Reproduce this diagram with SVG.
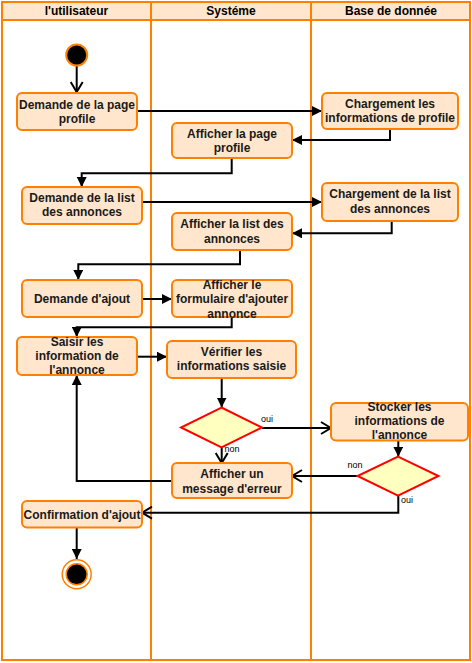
<svg xmlns="http://www.w3.org/2000/svg" width="472" height="663" viewBox="0 0 472 663">
<defs>
<style>
.lane{fill:none;stroke:#ff8000;stroke-width:2}
.hdr{fill:#ffe6cc;stroke:#ff8000;stroke-width:2}
.hdt{font-family:"Liberation Sans",Arial,sans-serif;font-size:12px;font-weight:bold;fill:#000;text-anchor:middle}
.box{fill:#ffe6cc;stroke:#ff8000;stroke-width:2}
.t{font-family:"Liberation Sans",Arial,sans-serif;font-size:12px;font-weight:bold;fill:#1a1a1a;text-anchor:middle}
.dec{fill:#ffffc0;stroke:#ff0000;stroke-width:2}
.lbl{font-family:"Liberation Sans",Arial,sans-serif;font-size:9px;fill:#000}
.e{fill:none;stroke:#000;stroke-width:2}
.ef{fill:none;stroke:#000;stroke-width:2;marker-end:url(#fa)}
.eo{fill:none;stroke:#000;stroke-width:2;marker-end:url(#oa)}
</style>
<marker id="fa" viewBox="0 0 10 10" refX="10" refY="5" markerWidth="10" markerHeight="10" markerUnits="userSpaceOnUse" orient="auto">
<path d="M0,0 L10,5 L0,10 z" fill="#000"/>
</marker>
<marker id="oa" viewBox="-1 -1 12 14" refX="10" refY="6" markerWidth="12" markerHeight="14" markerUnits="userSpaceOnUse" orient="auto">
<path d="M0,0 L10,6 L0,12" fill="none" stroke="#000" stroke-width="2"/>
</marker>
</defs>

<g id="lanes">
<rect class="hdr" x="2" y="2" width="149" height="18"/>
<rect class="hdr" x="151" y="2" width="160" height="18"/>
<rect class="hdr" x="311" y="2" width="159" height="18"/>
<rect class="lane" x="2" y="2" width="149" height="658"/>
<rect class="lane" x="151" y="2" width="160" height="658"/>
<rect class="lane" x="311" y="2" width="159" height="658"/>
<text class="hdt" x="76.5" y="15">l'utilisateur</text>
<text class="hdt" x="231" y="15">Systéme</text>
<text class="hdt" x="391" y="15">Base de donnée</text>
</g>

<g id="connectors">
<path class="eo" d="M76.7,66 L76.7,92"/>
<path class="ef" d="M137,111 L322,111"/>
<path class="ef" d="M390,129 L390,140 L292,140"/>
<path class="ef" d="M231.7,158 L231.7,173.3 L81.7,173.3 L81.7,187"/>
<path class="ef" d="M142,202 L322,202"/>
<path class="ef" d="M391.7,221 L391.7,233.3 L292,233.3"/>
<path class="ef" d="M240,250 L240,264.3 L78.3,264.3 L78.3,280"/>
<path class="ef" d="M142,299 L172,299"/>
<path class="ef" d="M231.7,318 L231.7,327.3 L76.7,327.3 L76.7,337"/>
<path class="ef" d="M137,356.7 L167,356.7"/>
<path class="ef" d="M221.7,378 L221.7,407.5"/>
<path class="eo" d="M262,428 L331,428"/>
<path class="eo" d="M221.7,447.5 L221.7,463"/>
<path class="ef" d="M398.3,441 L398.3,456.7"/>
<path class="eo" d="M358,476 L292,476"/>
<path class="eo" d="M398.3,495.7 L398.3,512.7 L142,512.7"/>
<path class="ef" d="M172,481 L76.7,481 L76.7,375"/>
<path class="ef" d="M76.7,527.5 L76.7,559"/>
<text class="lbl" x="261" y="422">oui</text>
<text class="lbl" x="224.5" y="452">non</text>
<text class="lbl" x="347.5" y="467.5">non</text>
<text class="lbl" x="401" y="503">oui</text>
</g>

<g id="start">
<circle cx="76.7" cy="55" r="10.5" fill="#000" stroke="#ff8000" stroke-width="2"/>
</g>

<g id="n1">
<rect class="box" x="17" y="93" width="120" height="37" rx="5"/>
<text class="t" x="77" y="108.5">Demande de la page</text>
<text class="t" x="77" y="122.5">profile</text>
</g>

<g id="n2">
<rect class="box" x="322" y="93" width="136" height="36" rx="5"/>
<text class="t" x="390" y="108">Chargement les</text>
<text class="t" x="390" y="122">informations de profile</text>
</g>

<g id="n3">
<rect class="box" x="172" y="123" width="120" height="35" rx="5"/>
<text class="t" x="232" y="137.5">Afficher la page</text>
<text class="t" x="232" y="151.5">profile</text>
</g>

<g id="n4">
<rect class="box" x="22" y="187" width="120" height="37" rx="5"/>
<text class="t" x="82" y="202">Demande de la list</text>
<text class="t" x="82" y="216">des annonces</text>
</g>

<g id="n5">
<rect class="box" x="322" y="183" width="136" height="38" rx="5"/>
<text class="t" x="390" y="197.5">Chargement de la list</text>
<text class="t" x="390" y="212.5">des annonces</text>
</g>

<g id="n6">
<rect class="box" x="172" y="213" width="120" height="37" rx="5"/>
<text class="t" x="232" y="227.5">Afficher la list des</text>
<text class="t" x="232" y="242.5">annonces</text>
</g>

<g id="n7">
<rect class="box" x="22" y="280" width="120" height="37" rx="5"/>
<text class="t" x="82" y="303">Demande d'ajout</text>
</g>

<g id="n8">
<rect class="box" x="172" y="280" width="120" height="37" rx="5"/>
<text class="t" x="232" y="288.5">Afficher le</text>
<text class="t" x="232" y="303">formulaire d'ajouter</text>
<text class="t" x="232" y="317.5">annonce</text>
</g>

<g id="n9">
<rect class="box" x="17" y="337" width="120" height="38" rx="5"/>
<text class="t" x="77" y="345.5">Saisir les</text>
<text class="t" x="77" y="360">information de</text>
<text class="t" x="77" y="374">l'annonce</text>
</g>

<g id="n10">
<rect class="box" x="167" y="341" width="129" height="37" rx="5"/>
<text class="t" x="231.5" y="355.5">Vérifier les</text>
<text class="t" x="231.5" y="370">informations saisie</text>
</g>

<g id="d1">
<polygon class="dec" points="221.5,407.5 262,427.5 221.5,447.5 181,427.5"/>
</g>

<g id="n11">
<rect class="box" x="331" y="403" width="137" height="37.5" rx="5"/>
<text class="t" x="399.5" y="410.5">Stocker les</text>
<text class="t" x="399.5" y="424.5">informations de</text>
<text class="t" x="399.5" y="438.5">l'annonce</text>
</g>

<g id="d2">
<polygon class="dec" points="398,456.7 438.5,476 398,495.7 357.5,476"/>
</g>

<g id="n12">
<rect class="box" x="172" y="463" width="120" height="35" rx="5"/>
<text class="t" x="232" y="477.5">Afficher un</text>
<text class="t" x="232" y="492.5">message d'erreur</text>
</g>

<g id="n13">
<rect class="box" x="22" y="501" width="120" height="26.5" rx="5"/>
<text class="t" x="82" y="518.5">Confirmation d'ajout</text>
</g>

<g id="end">
<circle cx="76.7" cy="574.3" r="14.5" fill="#fff" stroke="#ff8000" stroke-width="1.5"/>
<circle cx="76.7" cy="574.3" r="10.5" fill="#000" stroke="#ff8000" stroke-width="1.5"/>
</g>
</svg>
